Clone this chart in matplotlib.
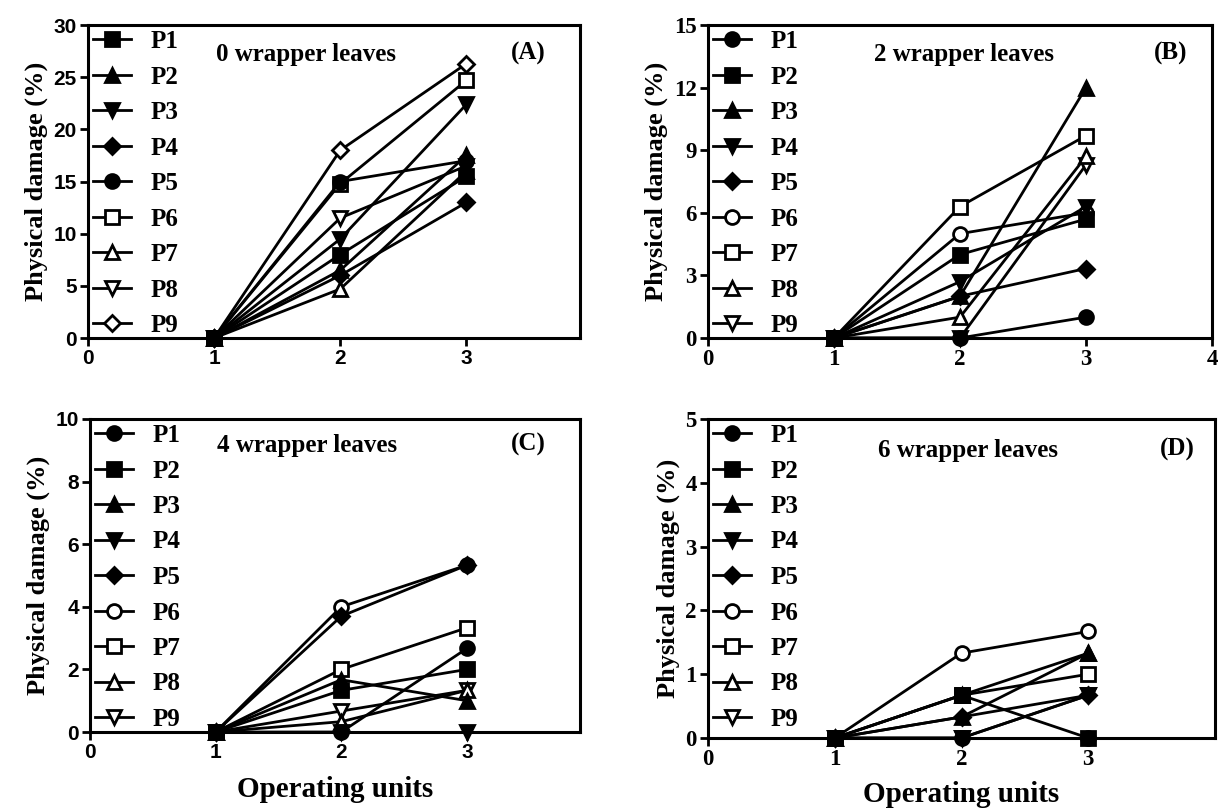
import matplotlib
matplotlib.use("Agg")
import matplotlib.pyplot as plt

x = [1, 2, 3]

# Panel A: 0 wrapper leaves
a_names = ["P1", "P2", "P3", "P4", "P5", "P6", "P7", "P8", "P9"]
a_vals = [
    [0, 8.0, 15.5],
    [0, 6.5, 17.5],
    [0, 9.5, 22.4],
    [0, 6.0, 13.0],
    [0, 15.0, 17.0],
    [0, 14.8, 24.7],
    [0, 4.7, 16.0],
    [0, 11.5, 16.5],
    [0, 18.0, 26.3],
]

# Panel B: 2 wrapper leaves
b_vals = [
    [0, 0.0, 1.0],
    [0, 4.0, 5.7],
    [0, 2.0, 12.0],
    [0, 2.7, 6.3],
    [0, 2.0, 3.33],
    [0, 5.0, 6.0],
    [0, 6.3, 9.7],
    [0, 1.0, 8.7],
    [0, 0.0, 8.3],
]

# Panel C: 4 wrapper leaves
c_vals = [
    [0, 0.0, 2.67],
    [0, 1.33, 2.0],
    [0, 1.67, 1.0],
    [0, 0.0, 0.0],
    [0, 3.7, 5.33],
    [0, 4.0, 5.33],
    [0, 2.0, 3.33],
    [0, 0.33, 1.33],
    [0, 0.67, 1.33],
]

# Panel D: 6 wrapper leaves
d_vals = [
    [0, 0.0, 0.0],
    [0, 0.67, 0.0],
    [0, 0.33, 1.33],
    [0, 0.0, 0.67],
    [0, 0.33, 0.67],
    [0, 1.33, 1.67],
    [0, 0.67, 1.0],
    [0, 0.67, 1.33],
    [0, 0.0, 0.67],
]

# marker styles: (marker, filled)
styles_a = [("s", True), ("^", True), ("v", True), ("D", True), ("o", True),
            ("s", False), ("^", False), ("v", False), ("D", False)]
styles_bcd = [("o", True), ("s", True), ("^", True), ("v", True), ("D", True),
              ("o", False), ("s", False), ("^", False), ("v", False)]

SERIF = "Liberation Serif"
SANS = "Liberation Sans"

fig = plt.figure(figsize=(12.27, 8.09), dpi=100)
W, H = 1227, 809


def px_axes(l, t, r, b):
    return fig.add_axes([l / W, 1 - b / H, (r - l) / W, (b - t) / H])


panels = [
    (px_axes(88, 25, 580, 338), a_vals, styles_a, (0, 30), [0, 5, 10, 15, 20, 25, 30],
     (0, 3.9), [0, 1, 2, 3], SANS, 15, "0 wrapper leaves", "(A)", 0.26, 0.905, 0.93),
    (px_axes(708, 25, 1212, 338), b_vals, styles_bcd, (0, 15), [0, 3, 6, 9, 12, 15],
     (0, 4), [0, 1, 2, 3, 4], SERIF, 16.5, "2 wrapper leaves", "(B)", 0.33, 0.905, 0.952),
    (px_axes(90, 419, 580, 732), c_vals, styles_bcd, (0, 10), [0, 2, 4, 6, 8, 10],
     (0, 3.9), [0, 1, 2, 3], SANS, 15, "4 wrapper leaves", "(C)", 0.26, 0.915, 0.93),
    (px_axes(708, 419, 1215, 738), d_vals, styles_bcd, (0, 5), [0, 1, 2, 3, 4, 5],
     (0, 4), [0, 1, 2, 3], SERIF, 16.5, "6 wrapper leaves", "(D)", 0.335, 0.9, 0.96),
]

for ax, vals, styles, ylim, yticks, xlim, xticks, tickfont, ticksize, title, tag, tx, ty, gx in panels:
    # later series go underneath so the filled markers stay on top
    for i, (name, v, (m, filled)) in enumerate(zip(a_names, vals, styles)):
        ax.plot(x, v, color="black", lw=2, marker=m, ms=10 if m != "D" else 8,
                mfc="black" if filled else "white", mec="black", mew=2,
                label=name, clip_on=False, zorder=20 - i)
    ax.set_ylim(*ylim)
    ax.set_xlim(*xlim)
    ax.set_yticks(yticks)
    ax.set_xticks(xticks)
    for lab in ax.get_xticklabels() + ax.get_yticklabels():
        lab.set_fontfamily(tickfont)
        lab.set_fontweight("bold")
        lab.set_fontsize(ticksize)
    ax.tick_params(direction="out", length=6, width=2, pad=2)
    for s in ax.spines.values():
        s.set_linewidth(2.2)
    ax.set_ylabel("Physical damage (%)", fontfamily=SERIF, fontweight="bold",
                  fontsize=19, labelpad=4)
    ax.text(tx, ty, title, transform=ax.transAxes, fontfamily=SERIF,
            fontweight="bold", fontsize=18, va="center")
    ax.text(gx, ty + 0.005, tag, transform=ax.transAxes, fontfamily=SERIF,
            fontweight="bold", fontsize=18, va="center", ha="right")
    ax.legend(loc="upper left", frameon=False, handlelength=1.5,
              borderaxespad=0.0, borderpad=0.2, labelspacing=0.5,
              handletextpad=0.8,
              prop={"family": SERIF, "weight": "bold", "size": 18})

panels[2][0].set_xlabel("Operating units", fontfamily=SERIF, fontweight="bold",
                        fontsize=21, labelpad=10)
panels[3][0].set_xlabel("Operating units", fontfamily=SERIF, fontweight="bold",
                        fontsize=21, labelpad=8)

fig.savefig("out.png", dpi=100)
